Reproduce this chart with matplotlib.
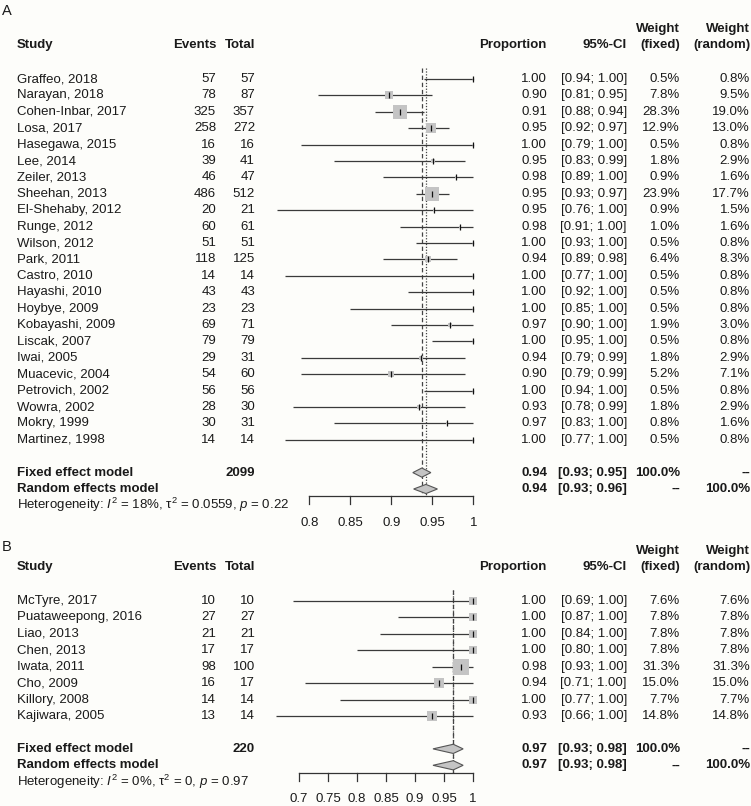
import matplotlib
matplotlib.use("Agg")
import matplotlib.pyplot as plt
from matplotlib.transforms import blended_transform_factory
import numpy as np

plt.rcParams['font.family'] = ['Liberation Sans', 'DejaVu Sans']
plt.rcParams['mathtext.fontset'] = 'custom'
plt.rcParams['mathtext.rm'] = 'Liberation Sans'
plt.rcParams['mathtext.it'] = 'Liberation Sans:italic'
plt.rcParams['mathtext.bf'] = 'Liberation Sans:bold'

# ---------------- Data: panel A ----------------
studies_a = ["Graffeo, 2018", "Narayan, 2018", "Cohen-Inbar, 2017", "Losa, 2017",
             "Hasegawa, 2015", "Lee, 2014", "Zeiler, 2013", "Sheehan, 2013",
             "El-Shehaby, 2012", "Runge, 2012", "Wilson, 2012", "Park, 2011",
             "Castro, 2010", "Hayashi, 2010", "Hoybye, 2009", "Kobayashi, 2009",
             "Liscak, 2007", "Iwai, 2005", "Muacevic, 2004", "Petrovich, 2002",
             "Wowra, 2002", "Mokry, 1999", "Martinez, 1998"]
events_a = [57, 78, 325, 258, 16, 39, 46, 486, 20, 60, 51, 118, 14, 43, 23, 69, 79, 29, 54, 56, 28, 30, 14]
total_a = [57, 87, 357, 272, 16, 41, 47, 512, 21, 61, 51, 125, 14, 43, 23, 71, 79, 31, 60, 56, 30, 31, 14]
prop_a = [1.0, 0.8966, 0.9104, 0.9485, 1.0, 0.9512, 0.9787, 0.9492, 0.9524, 0.9836, 1.0, 0.944,
          1.0, 1.0, 1.0, 0.9718, 1.0, 0.9355, 0.9, 1.0, 0.9333, 0.9677, 1.0]
lower_a = [0.94, 0.81, 0.88, 0.92, 0.79, 0.83, 0.89, 0.93, 0.76, 0.91, 0.93, 0.89,
           0.77, 0.92, 0.85, 0.90, 0.95, 0.79, 0.79, 0.94, 0.78, 0.83, 0.77]
upper_a = [1.00, 0.95, 0.94, 0.97, 1.00, 0.99, 1.00, 0.97, 1.00, 1.00, 1.00, 0.98,
           1.00, 1.00, 1.00, 1.00, 1.00, 0.99, 0.99, 1.00, 0.99, 1.00, 1.00]
wfix_a = [0.5, 7.8, 28.3, 12.9, 0.5, 1.8, 0.9, 23.9, 0.9, 1.0, 0.5, 6.4,
          0.5, 0.5, 0.5, 1.9, 0.5, 1.8, 5.2, 0.5, 1.8, 0.8, 0.5]
wran_a = [0.8, 9.5, 19.0, 13.0, 0.8, 2.9, 1.6, 17.7, 1.5, 1.6, 0.8, 8.3,
          0.8, 0.8, 0.8, 3.0, 0.8, 2.9, 7.1, 0.8, 2.9, 1.6, 0.8]
total_n_a = 2099
fixed_a = [0.937, 0.926, 0.948]      # estimate, lower, upper
random_a = [0.942, 0.927, 0.956]
het_a = r"Heterogeneity: $I^2$ = 18%, τ$^2$ = 0.0559, $p$ = 0.22"
ticks_a = [0.8, 0.85, 0.9, 0.95, 1.0]
ticklabels_a = ["0.8", "0.85", "0.9", "0.95", "1"]

# ---------------- Data: panel B ----------------
studies_b = ["McTyre, 2017", "Puataweepong, 2016", "Liao, 2013", "Chen, 2013",
             "Iwata, 2011", "Cho, 2009", "Killory, 2008", "Kajiwara, 2005"]
events_b = [10, 27, 21, 17, 98, 16, 14, 13]
total_b = [10, 27, 21, 17, 100, 17, 14, 14]
prop_b = [1.0, 1.0, 1.0, 1.0, 0.98, 0.9412, 1.0, 0.9286]
lower_b = [0.69, 0.87, 0.84, 0.80, 0.93, 0.71, 0.77, 0.66]
upper_b = [1.00, 1.00, 1.00, 1.00, 1.00, 1.00, 1.00, 1.00]
wfix_b = [7.6, 7.8, 7.8, 7.8, 31.3, 15.0, 7.7, 14.8]
wran_b = [7.6, 7.8, 7.8, 7.8, 31.3, 15.0, 7.7, 14.8]
total_n_b = 220
fixed_b = [0.966, 0.931, 0.983]
random_b = [0.966, 0.931, 0.983]
het_b = r"Heterogeneity: $I^2$ = 0%, τ$^2$ = 0, $p$ = 0.97"
ticks_b = [0.7, 0.75, 0.8, 0.85, 0.9, 0.95, 1.0]
ticklabels_b = ["0.7", "0.75", "0.8", "0.85", "0.9", "0.95", "1"]

# ---------------- Figure ----------------
W, H = 751, 806
BG = '#fdfdfa'
TXT = '#1a1a1a'
FS = 9.5
fig = plt.figure(figsize=(W / 100, H / 100), dpi=100, facecolor=BG)

# column x positions (pixels)
X_STUDY, X_EV, X_TOT, X_PROP, X_CI, X_WF, X_WR = 17, 216, 255, 547, 627, 680, 750


def panel(letter, top, bottom, row0, step, v1, p1, v2, p2,
          studies, events, total, prop, lower, upper, wfix, wran,
          total_n, fixed, random, het, ticks, ticklabels):
    ax = fig.add_axes([0, 1 - bottom / H, 1, (bottom - top) / H])
    ax.axis('off')
    ax.set_facecolor('none')
    ax.set_ylim((bottom - row0) / step, (top - row0) / step)
    scale = (p2 - p1) / (v2 - v1)
    ax.set_xlim(v1 - p1 / scale, v1 + (W - p1) / scale)
    tr = blended_transform_factory(fig.transFigure, ax.transData)

    def t(xpx, row, s, ha='right', bold=False, **kw):
        ax.text(xpx / W, row, s, transform=tr, ha=ha, va='center', fontsize=FS,
                fontweight='bold' if bold else 'normal', color=TXT, **kw)

    n = len(studies)
    rows = np.arange(n)
    r_fix = n + 1
    r_ran = n + 2
    r_het = n + 3
    r_axis = r_ran + 0.45

    # panel letter
    ax.text(2 / W, (top + 11 - row0) / step, letter, transform=tr, ha='left', va='center',
            fontsize=10.5, color=TXT)

    # headers
    t(X_STUDY, -2.07, "Study", ha='left', bold=True)
    t(X_EV, -2.07, "Events", bold=True)
    t(X_TOT, -2.07, "Total", bold=True)
    t(X_PROP, -2.07, "Proportion", bold=True)
    t(X_CI, -2.07, "95%-CI", bold=True)
    t(X_WF, -3.05, "Weight", bold=True)
    t(X_WF, -2.07, "(fixed)", bold=True)
    t(X_WR, -3.05, "Weight", bold=True)
    t(X_WR, -2.07, "(random)", bold=True)

    # reference lines
    ax.plot([fixed[0], fixed[0]], [-0.65, r_axis], color='#444444', lw=0.9,
            dashes=(3.5, 2.2), zorder=1)
    ax.plot([random[0], random[0]], [-0.65, r_axis], color='#444444', lw=0.9,
            dashes=(1, 1.3), zorder=1)

    # studies
    for i in range(n):
        r = rows[i]
        ax.plot([lower[i], upper[i]], [r, r], color='#3a3a3a', lw=0.9, zorder=3,
                solid_capstyle='butt')
        side_px = 2.7 * np.sqrt(wfix[i])
        ax.plot(prop[i], r, marker='s', ms=side_px * 0.72, mfc='#c4c4c4', mec='#c4c4c4',
                mew=0, ls='none', zorder=4)
        ax.plot(prop[i], r, marker='|', ms=4.0, mec='#111111', mew=0.9, ls='none', zorder=5)
        t(X_STUDY, r, studies[i], ha='left')
        t(X_EV, r, f"{events[i]}")
        t(X_TOT, r, f"{total[i]}")
        t(X_PROP, r, f"{prop[i]:.2f}")
        t(X_CI, r, f"[{lower[i]:.2f}; {upper[i]:.2f}]")
        t(X_WF, r, f"{wfix[i]:.1f}%")
        t(X_WR, r, f"{wran[i]:.1f}%")

    # summary diamonds
    hh = 0.28
    for (est, lo, hi), r in ((fixed, r_fix), (random, r_ran)):
        ax.fill([lo, est, hi, est], [r, r - hh, r, r + hh], facecolor='#c4c4c4',
                edgecolor='#555555', lw=0.8, zorder=4)

    t(X_STUDY, r_fix, "Fixed effect model", ha='left', bold=True)
    t(X_TOT, r_fix, f"{total_n}", bold=True)
    t(X_PROP, r_fix, f"{fixed[0]:.2f}", bold=True)
    t(X_CI, r_fix, f"[{fixed[1]:.2f}; {fixed[2]:.2f}]", bold=True)
    t(X_WF, r_fix, "100.0%", bold=True)
    t(X_WR, r_fix, "--", bold=True)

    t(X_STUDY, r_ran, "Random effects model", ha='left', bold=True)
    t(X_PROP, r_ran, f"{random[0]:.2f}", bold=True)
    t(X_CI, r_ran, f"[{random[1]:.2f}; {random[2]:.2f}]", bold=True)
    t(X_WF, r_ran, "--", bold=True)
    t(X_WR, r_ran, "100.0%", bold=True)

    t(X_STUDY, r_het, het, ha='left')

    # x axis
    ax.plot([ticks[0], ticks[-1]], [r_axis, r_axis], color='#333333', lw=0.9, zorder=2)
    tick_len = 8 / step
    for tv, tl in zip(ticks, ticklabels):
        ax.plot([tv, tv], [r_axis, r_axis + tick_len], color='#333333', lw=0.9, zorder=2)
        ax.text(tv, r_ran + 34 / step, tl, ha='center', va='center', fontsize=FS, color=TXT)
    return ax


panel("A", 0, 540, 79, 16.4, 0.8, 309.5, 1.0, 473.5,
      studies_a, events_a, total_a, prop_a, lower_a, upper_a, wfix_a, wran_a,
      total_n_a, fixed_a, random_a, het_a, ticks_a, ticklabels_a)

panel("B", 536, 806, 601, 16.43, 0.7, 299, 1.0, 473,
      studies_b, events_b, total_b, prop_b, lower_b, upper_b, wfix_b, wran_b,
      total_n_b, fixed_b, random_b, het_b, ticks_b, ticklabels_b)

fig.savefig("out.png", dpi=100, facecolor=BG)
